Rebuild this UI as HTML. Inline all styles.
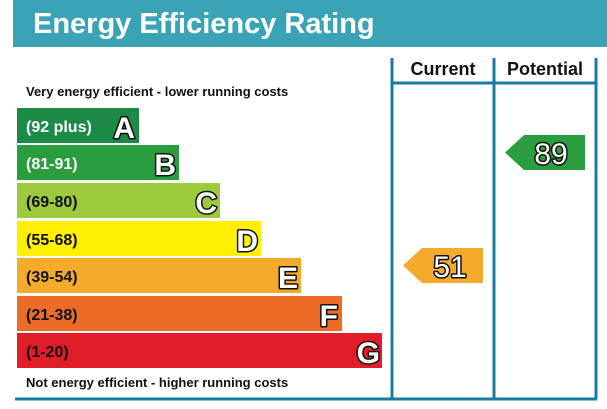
<!DOCTYPE html>
<html><head><style>body{margin:0;background:#fff}svg{display:block}</style></head>
<body>
<svg width="607" height="409" viewBox="0 0 607 409" xmlns="http://www.w3.org/2000/svg" font-family="Liberation Sans, Arial, sans-serif">
<rect x="13" y="0" width="594" height="47" fill="#3ba3b6"/>
<text x="33" y="33" font-size="29" font-weight="bold" fill="#fff">Energy Efficiency Rating</text>
<g stroke="#1a7ba1" stroke-width="3" fill="none">
<line x1="392" y1="58" x2="392" y2="399"/>
<line x1="494" y1="58" x2="494" y2="399"/>
<line x1="596" y1="58" x2="596" y2="399"/>
<line x1="392" y1="83" x2="596" y2="83"/>
<line x1="15" y1="399" x2="597" y2="399"/>
</g>
<text x="443" y="75" font-size="18" font-weight="bold" text-anchor="middle" fill="#111">Current</text>
<text x="545" y="75" font-size="18" font-weight="bold" text-anchor="middle" fill="#111">Potential</text>
<text x="26" y="96" font-size="13" font-weight="bold" fill="#111">Very energy efficient - lower running costs</text>
<text x="26" y="387" font-size="13" font-weight="bold" fill="#111">Not energy efficient - higher running costs</text>
<g font-weight="bold">
<rect x="17" y="108" width="122" height="35" fill="#1a8a46"/>
<text x="26" y="132" font-size="16" fill="#fff">(92 plus)</text>
<rect x="17" y="145" width="162" height="35" fill="#2a9e3e"/>
<text x="26" y="169" font-size="16" fill="#fff">(81-91)</text>
<rect x="17" y="183" width="203" height="35" fill="#9dc93d"/>
<text x="26" y="207" font-size="16" fill="#111">(69-80)</text>
<rect x="17" y="221" width="244" height="35" fill="#fff000"/>
<text x="26" y="245" font-size="16" fill="#111">(55-68)</text>
<rect x="17" y="258" width="284" height="35" fill="#f4ab2b"/>
<text x="26" y="282" font-size="16" fill="#111">(39-54)</text>
<rect x="17" y="296" width="325" height="35" fill="#ec6c26"/>
<text x="26" y="320" font-size="16" fill="#111">(21-38)</text>
<rect x="17" y="333" width="365" height="35" fill="#e11e28"/>
<text x="26" y="357" font-size="16" fill="#111">(1-20)</text>
</g>
<g font-size="30" font-weight="bold" fill="#fff" stroke="#111" stroke-width="3" paint-order="stroke" stroke-linejoin="round" text-anchor="end">
<text x="135" y="138">A</text>
<text x="176" y="175">B</text>
<text x="217" y="213">C</text>
<text x="258" y="251">D</text>
<text x="298" y="288">E</text>
<text x="338" y="326">F</text>
<text x="380" y="363">G</text>
</g>
<polygon points="403,265.5 422,248 483,248 483,283 422,283" fill="#f4ab2b"/>
<text x="450" y="277" font-size="30" fill="#fff" stroke="#111" stroke-width="3" paint-order="stroke" stroke-linejoin="round" text-anchor="middle">51</text>
<polygon points="505,152.5 524,135 585,135 585,170 524,170" fill="#2a9e3e"/>
<text x="551" y="164" font-size="30" fill="#fff" stroke="#111" stroke-width="3" paint-order="stroke" stroke-linejoin="round" text-anchor="middle">89</text>
</svg>
</body></html>
